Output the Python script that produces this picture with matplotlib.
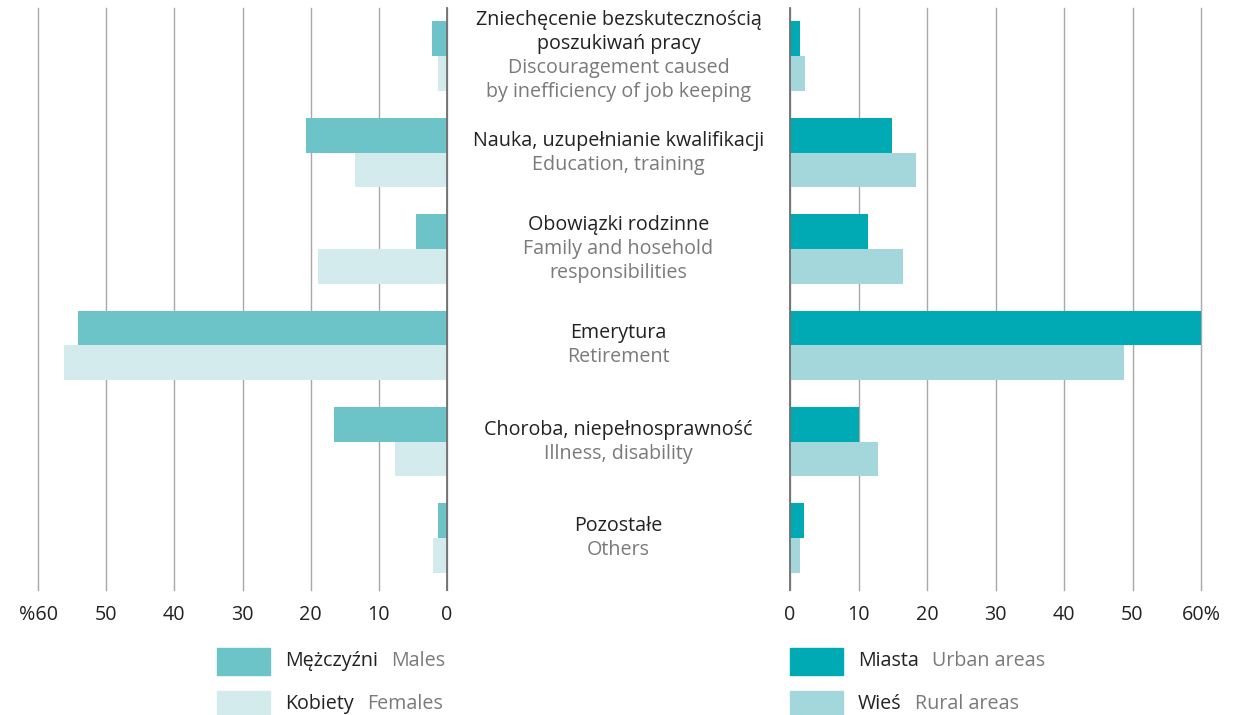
import matplotlib
matplotlib.use('Agg')
import matplotlib.pyplot as plt
from matplotlib.transforms import blended_transform_factory, offset_copy
from matplotlib.patches import Rectangle

plt.rcParams['font.family'] = ['Open Sans', 'DejaVu Sans']

# data
labels_pl = ['Zniechęcenie bezskutecznością\nposzukiwań pracy',
             'Nauka, uzupełnianie kwalifikacji',
             'Obowiązki rodzinne',
             'Emerytura',
             'Choroba, niepełnosprawność',
             'Pozostałe']
labels_en = ['Discouragement caused\nby inefficiency of job keeping',
             'Education, training',
             'Family and hosehold\nresponsibilities',
             'Retirement',
             'Illness, disability',
             'Others']
males = [2.2, 20.7, 4.5, 54.1, 16.6, 1.3]
females = [1.3, 13.5, 18.9, 56.2, 7.6, 2.1]
urban = [1.5, 14.9, 11.4, 60.0, 10.1, 2.0]
rural = [2.2, 18.4, 16.5, 48.8, 12.8, 1.5]
ticks = [0, 10, 20, 30, 40, 50, 60]

c_males = '#6cc4c8'
c_females = '#d3ebec'
c_urban = '#00aab4'
c_rural = '#a3d7dc'
dark = '#222222'
grey = '#7a7a7a'
fs = 14.2

W, H = 1242, 715
fig = plt.figure(figsize=(W / 100, H / 100), dpi=100)

def fx(px):
    return px / W

def fy(py):
    return 1 - py / H

ax_l = fig.add_axes([fx(38), fy(590), fx(447 - 38), (590 - 8) / H])
ax_r = fig.add_axes([fx(790), fy(590), fx(1201 - 790), (590 - 8) / H])

n = len(labels_pl)
ypos = list(range(n))
bh = 0.36

ax_l.barh([y - bh / 2 for y in ypos], [-v for v in males], height=bh, color=c_males, zorder=2)
ax_l.barh([y + bh / 2 for y in ypos], [-v for v in females], height=bh, color=c_females, zorder=2)
ax_r.barh([y - bh / 2 for y in ypos], urban, height=bh, color=c_urban, zorder=2)
ax_r.barh([y + bh / 2 for y in ypos], rural, height=bh, color=c_rural, zorder=2)

ax_l.set_xlim(-60, 0)
ax_r.set_xlim(0, 60)
ax_l.set_xticks([-t for t in ticks])
ax_l.set_xticklabels(['%60' if t == 60 else str(t) for t in ticks])
ax_r.set_xticks(ticks)
ax_r.set_xticklabels(['60%' if t == 60 else str(t) for t in ticks])

for ax in (ax_l, ax_r):
    ax.set_ylim(5.54, -0.5)
    ax.set_yticks([])
    for s in ax.spines.values():
        s.set_visible(False)
    ax.tick_params(axis='x', length=0, pad=11, labelsize=fs, labelcolor=dark)
    ax.grid(axis='x', color='#a8a8a8', linewidth=1.0, zorder=1)
    for gl in ax.get_xgridlines():
        gl.set_clip_on(False)
    ax.axvline(0, color='#707070', linewidth=1.3, zorder=3, clip_on=False)

# centre labels
lh = 17.3  # line height in points
base = blended_transform_factory(fig.transFigure, ax_l.transData)
cx = fx(618.5)
for i in range(n):
    pl = labels_pl[i].split('\n')
    en = labels_en[i].split('\n')
    lines = [(t, dark) for t in pl] + [(t, grey) for t in en]
    k = len(lines)
    for j, (t, col) in enumerate(lines):
        off = ((k - 1) / 2 - j) * lh
        tr = offset_copy(base, fig=fig, x=0, y=off, units='points')
        fig.text(cx, i, t, transform=tr, ha='center', va='center',
                 fontsize=fs, color=col)

# legend
fig.canvas.draw()
renderer = fig.canvas.get_renderer()
legend = [(217, 661, c_males, 'Mężczyźni', 'Males'),
          (217, 704, c_females, 'Kobiety', 'Females'),
          (790, 661, c_urban, 'Miasta', 'Urban areas'),
          (790, 704, c_rural, 'Wieś', 'Rural areas')]
for x0, yc, col, pl, en in legend:
    fig.patches.append(Rectangle((fx(x0), fy(yc + 13.5)), fx(53), 27 / H,
                                 transform=fig.transFigure, color=col))
    t1 = fig.text(fx(x0 + 68), fy(yc), pl, ha='left', va='center',
                  fontsize=fs, color=dark)
    bb = t1.get_window_extent(renderer)
    fig.text(fx(bb.x1 + 13), fy(yc), en, ha='left', va='center',
             fontsize=fs, color=grey)

fig.savefig('out.png', dpi=100)
